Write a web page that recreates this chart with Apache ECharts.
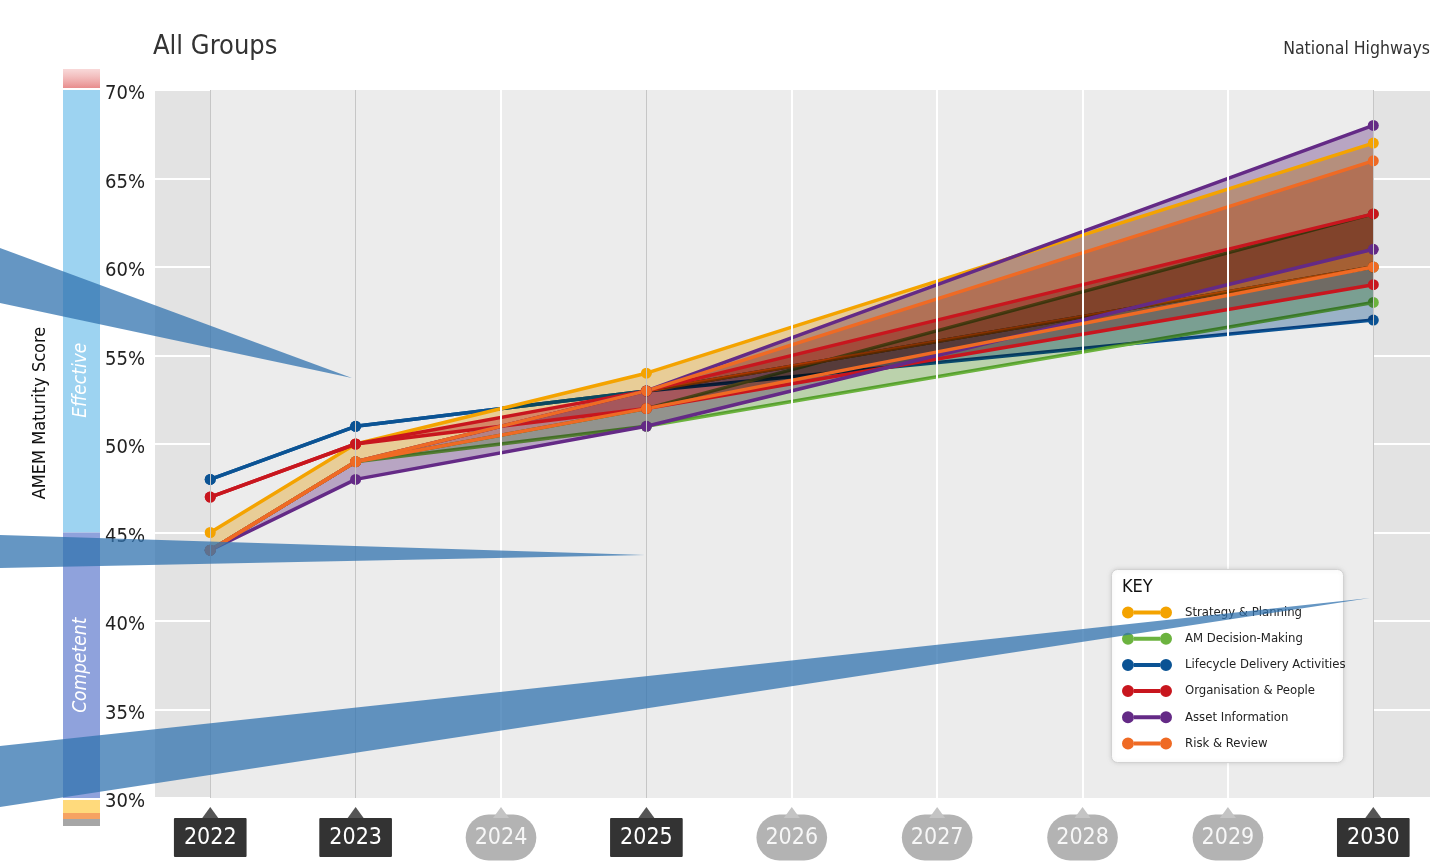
<!DOCTYPE html>
<html>
<head>
<meta charset="utf-8">
<title>All Groups – AMEM Maturity Score</title>
<script src="https://cdn.jsdelivr.net/npm/echarts@6/dist/echarts.min.js"></script>
<style>
  html, body { margin: 0; padding: 0; background: #fff; }
  #chart { width: 1438px; height: 865px; }
</style>
</head>
<body>
<div id="chart"></div>
<script>
// ---- data ----
const years = [2022, 2023, 2025, 2030];
const axisYears = [2022, 2023, 2024, 2025, 2026, 2027, 2028, 2029, 2030];
const assessedYears = [2022, 2023, 2025, 2030];
const categories = ['Strategy & Planning', 'AM Decision-Making', 'Lifecycle Delivery Activities',
                    'Organisation & People', 'Asset Information', 'Risk & Review'];
const categoryColors = ['#f4a300', '#6cb33f', '#0b5394', '#c8161e', '#642a86', '#ef6a24'];
// upper and lower trajectories per category, values at 2022, 2023, 2025, 2030 (%)
const upperScores = [
  [45, 50, 54, 67],
  [44, 49, 52, 63],
  [48, 51, 53, 60],
  [47, 50, 53, 63],
  [44, 49, 53, 68],
  [44, 49, 53, 66]
];
const lowerScores = [
  [44, 49, 53, 60],
  [44, 49, 51, 58],
  [48, 51, 53, 57],
  [47, 50, 52, 59],
  [44, 48, 51, 61],
  [44, 49, 52, 60]
];
// maturity bands on the score scale
const bandEffective = [45, 70];
const bandCompetent = [30, 45];

const FONT = "'Liberation Sans Narrow', 'DejaVu Sans Condensed', 'Roboto Condensed', Roboto, sans-serif";

const chart = echarts.init(document.getElementById('chart'), null, { renderer: 'canvas' });

const pairs = (vals) => years.map((y, k) => [y, vals[k]]);

// stacking: z 2 lines sit under the multiplied bands (z 3), z 4 lines on top
const upperZ = [4, 2, 2, 4, 4, 4];
const lowerZ = [2, 2, 2, 4, 4, 4];
const lineOrder = [2, 1, 0, 3, 4, 5];

const series = [];

// plot backgrounds and vertical guides
series.push({
  type: 'line', data: [], z: -2, silent: true,
  markArea: {
    silent: true,
    itemStyle: { color: '#ececec' },
    data: [[{ xAxis: 2022 }, { xAxis: 2030 }]]
  }
});
series.push({
  type: 'line', data: [], z: -1, silent: true,
  markLine: {
    silent: true, symbol: 'none', label: { show: false },
    data: axisYears.map(y => ({
      xAxis: y,
      lineStyle: assessedYears.includes(y)
        ? { color: '#c6c6c6', width: 1, type: 'solid' }
        : { color: '#ffffff', width: 2, type: 'solid' }
    }))
  }
});

// translucent bands between each category's two trajectories (multiplied together)
categories.forEach((name, i) => {
  series.push({
    type: 'custom', name: name + ' band', z: 3, silent: true,
    blendMode: 'multiply',
    data: pairs(upperScores[i]),
    renderItem: (params, api) => {
      if (params.dataIndex !== 0) return { type: 'group', children: [] };
      const top = years.map((y, k) => api.coord([y, upperScores[i][k]]));
      const bottom = years.map((y, k) => api.coord([y, lowerScores[i][k]])).reverse();
      return {
        type: 'polygon',
        shape: { points: top.concat(bottom) },
        style: { fill: categoryColors[i], opacity: 0.36 }
      };
    }
  });
});

// trajectory lines
lineOrder.forEach(i => {
  [[upperScores[i], upperZ[i]], [lowerScores[i], lowerZ[i]]].forEach(([vals, z]) => {
    series.push({
      type: 'line', name: categories[i], z,
      data: pairs(vals),
      symbol: 'circle', symbolSize: 11,
      lineStyle: { color: categoryColors[i], width: 3.5 },
      itemStyle: { color: categoryColors[i] },
      emphasis: { disabled: true }
    });
  });
});

// pointer triangles above the year labels
series.push({
  type: 'custom', clip: false, silent: true, z: 6,
  data: axisYears.map(y => [y, 30]),
  renderItem: (params, api) => {
    const p = api.coord([api.value(0), api.value(1)]);
    const dark = assessedYears.includes(api.value(0));
    return {
      type: 'polygon',
      shape: { points: [[p[0] - 8, p[1] + 20], [p[0] + 8, p[1] + 20], [p[0], p[1] + 9]] },
      style: { fill: dark ? '#555555' : '#c4c4c4' }
    };
  }
});

// maturity scale strip at the left
series.push({
  type: 'custom', clip: false, silent: true, z: 5,
  data: [[2022, 30]],
  renderItem: (params, api) => {
    const x0 = 63, w = 37;
    const y70 = api.coord([2022, bandEffective[1]])[1];
    const y45 = api.coord([2022, bandEffective[0]])[1];
    const y30 = api.coord([2022, bandCompetent[0]])[1];
    const yEffText = api.coord([2022, 53.6])[1];
    return {
      type: 'group',
      children: [
        { type: 'rect', shape: { x: x0, y: y70 - 21, width: w, height: 19 },
          style: { fill: new echarts.graphic.LinearGradient(0, 0, 0, 1, [
            { offset: 0, color: 'rgba(240,170,170,0.45)' },
            { offset: 1, color: 'rgba(228,120,120,0.85)' }]) } },
        { type: 'rect', shape: { x: x0, y: y70, width: w, height: y45 - y70 },
          style: { fill: '#9dd3f1' } },
        { type: 'rect', shape: { x: x0, y: y45, width: w, height: y30 - y45 },
          style: { fill: '#8fa2dc' } },
        { type: 'rect', shape: { x: x0, y: y30 + 2, width: w, height: 13 },
          style: { fill: '#ffda7c' } },
        { type: 'rect', shape: { x: x0, y: y30 + 15, width: w, height: 6 },
          style: { fill: '#f6a262' } },
        { type: 'rect', shape: { x: x0, y: y30 + 21, width: w, height: 7 },
          style: { fill: '#a6a6a6' } },
        { type: 'text', x: x0 + w / 2, y: yEffText, rotation: Math.PI / 2,
          style: { text: 'Effective', fill: '#ffffff', font: 'italic 19px ' + FONT,
                   align: 'center', verticalAlign: 'middle' } },
        { type: 'text', x: x0 + w / 2, y: (y45 + y30) / 2, rotation: Math.PI / 2,
          style: { text: 'Competent', fill: '#ffffff', font: 'italic 19px ' + FONT,
                   align: 'center', verticalAlign: 'middle' } }
      ]
    };
  }
});

// legend key: a bar with a dot at each end
const dumbbell = 'path://M12,4 L38,4 L38,8 L12,8 Z M0,6 A6,6 0 1,0 12,6 A6,6 0 1,0 0,6 Z M38,6 A6,6 0 1,0 50,6 A6,6 0 1,0 38,6 Z';

const option = {
  backgroundColor: '#ffffff',
  animation: false,
  textStyle: { fontFamily: FONT },
  grid: { left: 155, right: 8, top: 90, bottom: 67, show: true, backgroundColor: '#e3e3e3', borderWidth: 0 },
  xAxis: {
    type: 'value', min: 2021.62, max: 2030.39,
    axisLine: { show: false }, axisTick: { show: false }, splitLine: { show: false },
    axisLabel: {
      customValues: axisYears,
      margin: 27,
      formatter: v => assessedYears.includes(v) ? '{dark|' + v + '}' : '{light|' + v + '}',
      rich: {
        dark: { color: '#ffffff', backgroundColor: '#333333', fontSize: 23, fontFamily: FONT,
                padding: [9, 10, 7, 10], borderRadius: 1, lineHeight: 25 },
        light: { color: '#f7f7f7', backgroundColor: '#b3b3b3', fontSize: 23, fontFamily: FONT,
                 padding: [12, 9, 11, 9], borderRadius: 23, lineHeight: 25 }
      }
    }
  },
  yAxis: {
    type: 'value', min: 30, max: 70, interval: 5,
    axisLine: { show: false }, axisTick: { show: false },
    splitLine: { lineStyle: { color: '#ffffff', width: 2 } },
    axisLabel: {
      margin: 10,
      formatter: v => '{pct|' + v + '%}',
      rich: { pct: { fontSize: 20, color: '#222', fontFamily: FONT, padding: [8, 0, 0, 0] } }
    }
  },
  legend: {
    left: 1122, top: 606, orient: 'vertical', padding: 0, z: 20,
    itemWidth: 50, itemHeight: 12, itemGap: 13.2,
    selectedMode: false,
    textStyle: { fontSize: 13, lineHeight: 12, color: '#222', fontFamily: FONT, padding: [0, 0, 0, 8] },
    data: categories.map((name, i) => ({ name, icon: dumbbell,
      itemStyle: { color: categoryColors[i], borderWidth: 0 } }))
  },
  graphic: [
    { type: 'text', left: 153, top: 33,
      style: { text: 'All Groups', font: '27px ' + FONT, fill: '#333' } },
    { type: 'text', right: 8, top: 40,
      style: { text: 'National Highways', font: '17.5px ' + FONT, fill: '#333' } },
    { type: 'text', x: 40, y: 413, rotation: Math.PI / 2,
      style: { text: 'AMEM Maturity Score', font: '18px ' + FONT, fill: '#111',
               align: 'center', verticalAlign: 'middle' } },
    { type: 'rect', left: 1111, top: 569, z: 10,
      shape: { width: 232, height: 193, r: 6 },
      style: { fill: '#ffffff', stroke: '#d2d2d2', lineWidth: 1,
               shadowBlur: 4, shadowColor: 'rgba(0,0,0,0.12)' } },
    { type: 'text', left: 1122, top: 578, z: 21,
      style: { text: 'KEY', font: '18px ' + FONT, fill: '#111' } },
    // pointer wedges
    { type: 'polygon', z: 50, silent: true,
      shape: { points: [[0, 248], [352, 378], [0, 303]] },
      style: { fill: 'rgba(50,115,175,0.75)' } },
    { type: 'polygon', z: 50, silent: true,
      shape: { points: [[0, 535], [645, 555], [0, 568]] },
      style: { fill: 'rgba(50,115,175,0.75)' } },
    { type: 'polygon', z: 50, silent: true,
      shape: { points: [[0, 746], [1370, 598], [0, 807]] },
      style: { fill: 'rgba(50,115,175,0.75)' } }
  ],
  series
};

chart.setOption(option);
</script>
</body>
</html>
